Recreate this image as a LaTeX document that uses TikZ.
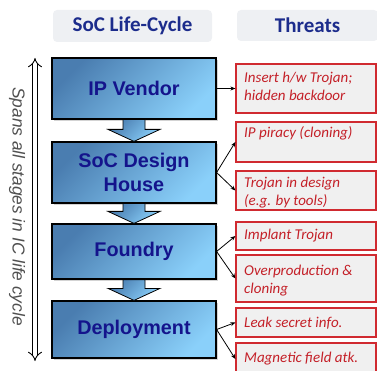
\documentclass[tikz,border=0pt]{standalone}
\usepackage{fontspec}
\setmainfont{Liberation Sans}
\newfontfamily\calibri{Carlito}
\usetikzlibrary{arrows.meta,shadows,calc}

\definecolor{boxdark}{HTML}{4A7DB0}
\definecolor{boxlight}{HTML}{8AD0FA}
\definecolor{labelnavy}{HTML}{14148C}
\definecolor{hdrnavy}{HTML}{1C2C8C}
\definecolor{hdrgray}{HTML}{EEF0F3}
\definecolor{threatred}{HTML}{D02A30}
\definecolor{threattext}{HTML}{C42028}
\definecolor{threatfill}{HTML}{F0F0F0}
\definecolor{sidegray}{HTML}{505050}

\tikzset{
  hdr/.style={fill=hdrgray, rounded corners=4pt, inner sep=0pt, text=hdrnavy,
    font=\calibri\bfseries\fontsize{21}{23}\selectfont},
  stage/.style={draw=black, line width=1.2pt, minimum width=164pt, inner sep=0pt,
    left color=boxdark, right color=boxlight, shading angle=45,
    drop shadow={opacity=0.35, shadow xshift=2pt, shadow yshift=-2pt},
    text=labelnavy, align=center,
    font=\bfseries\fontsize{19.8}{24}\selectfont},
  flowarrow/.style={draw=black, line width=0.8pt,
    left color=boxdark, right color=boxlight, shading angle=45},
  threat/.style={draw=threatred, line width=1.2pt, fill=threatfill,
    minimum width=140pt, inner sep=0pt},
  ttext/.style={anchor=base west, inner sep=0pt, text=threattext,
    font=\calibri\itshape\fontsize{15}{18}\selectfont},
  conn/.style={draw=black, line width=0.8pt, -{Stealth[length=5pt,width=4pt]}},
  spanarrow/.style={draw=black, double=white, double distance=4pt, line width=0.9pt,
    {Implies}-{Implies}},
}

\begin{document}
\begin{tikzpicture}[x=1pt,y=-1pt]
\useasboundingbox (0,0) rectangle (377,371);

% column headers
\node[hdr, minimum width=159pt, minimum height=32pt] (hcycle) at (132.5,26) {SoC Life-Cycle};
\node[hdr, minimum width=141pt, minimum height=31pt] (hthreat) at (307.5,25.5) {Threats};

% life-cycle stages
\node[stage, minimum height=61pt] (ip) at (134,88.5) {IP Vendor};
\node[stage, minimum height=61pt] (soc) at (134,172.5) {SoC Design\\House};
\node[stage, minimum height=55pt] (fab) at (134,251.5) {Foundry};
\node[stage, minimum height=57pt] (dep) at (134,329.5) {Deployment};

% block arrows between consecutive stages
\foreach \a/\b in {ip/soc, soc/fab, fab/dep}{
  \path[flowarrow] ($(\a.south)+(-11,0)$) -- ($(\a.south)+(11,0)$)
    -- ($(\b.north)+(11,-12)$) -- ($(\b.north)+(26,-12)$)
    -- (\b.north) -- ($(\b.north)+(-26,-12)$)
    -- ($(\b.north)+(-11,-12)$) -- cycle;
}

% threat boxes
\node[threat, minimum height=49pt] (t1) at (306,88.5) {};
\node[threat, minimum height=40pt] (t2) at (306,142) {};
\node[threat, minimum height=39pt] (t3) at (306,190.5) {};
\node[threat, minimum height=28pt] (t4) at (306,236) {};
\node[threat, minimum height=47pt] (t5) at (306,278.5) {};
\node[threat, minimum height=29pt] (t6) at (306,322.5) {};
\node[threat, minimum height=32pt] (t7) at (306,359) {};

% threat texts
\node[ttext] (t1a) at (244,83) {Insert h/w Trojan;};
\node[ttext] (t1b) at (244,101) {hidden backdoor};
\node[ttext] (t2a) at (244,138) {IP piracy (cloning)};
\node[ttext] (t3a) at (244,188) {Trojan in design};
\node[ttext] (t3b) at (244,206) {(e.g. by tools)};
\node[ttext] (t4a) at (244,240) {Implant Trojan};
\node[ttext] (t5a) at (244,275) {Overproduction \&};
\node[ttext] (t5b) at (244,293) {cloning};
\node[ttext] (t6a) at (244,327) {Leak secret info.};
\node[ttext] (t7a) at (244,362) {Magnetic field atk.};

% connectors from stages to threats
\draw[conn] (ip.east) -- (t1.west);
\draw[conn] (soc.east) -- (t2.west);
\draw[conn] (soc.east) -- (t3.west);
\draw[conn] (fab.east) -- (t4.west);
\draw[conn] (fab.east) -- (t5.west);
\draw[conn] (dep.east) -- (t6.west);
\draw[conn] (dep.east) -- (t7.west);

% span arrow with side label
\coordinate (spantop) at (35,58);
\coordinate (spanbot) at (35,361);
\draw[spanarrow] (spanbot) -- (spantop);
\node[rotate=-90, text=sidegray, inner sep=0pt,
  font=\itshape\fontsize{17.3}{19}\selectfont] (spanlabel) at (17,206.5)
  {Spans all stages in IC life cycle};
\end{tikzpicture}
\end{document}
